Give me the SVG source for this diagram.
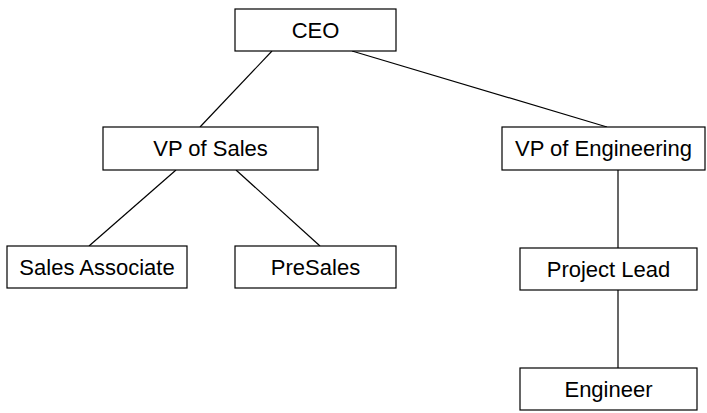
<svg xmlns="http://www.w3.org/2000/svg" width="707" height="413" viewBox="0 0 707 413">
<style>
rect{fill:#fff;stroke:#000;stroke-width:1.2}
text{font-family:"Liberation Sans",Arial,sans-serif;font-size:22px;fill:#000;text-anchor:middle}
line{stroke:#000;stroke-width:1.2}
</style>
<rect x="0" y="0" width="707" height="413" style="stroke:none"/>
<g id="connectors">
<line x1="272" y1="51" x2="200" y2="127"/>
<line x1="352" y1="51" x2="607" y2="127"/>
<line x1="176" y1="170" x2="89" y2="246"/>
<line x1="236" y1="170" x2="320" y2="246"/>
<line x1="618" y1="170" x2="618" y2="248"/>
<line x1="618" y1="290" x2="618" y2="368"/>
</g>
<g id="ceo"><rect x="235" y="9" width="161" height="42"/><text x="315.5" y="38">CEO</text></g>
<g id="vp-sales"><rect x="103" y="127" width="215" height="43"/><text x="210.5" y="156">VP of Sales</text></g>
<g id="vp-eng"><rect x="502" y="127" width="203" height="43"/><text x="603.5" y="156">VP of Engineering</text></g>
<g id="sales-assoc"><rect x="7" y="246" width="180" height="42"/><text x="97" y="275">Sales Associate</text></g>
<g id="presales"><rect x="235" y="246" width="161" height="42"/><text x="315.5" y="275">PreSales</text></g>
<g id="project-lead"><rect x="520" y="248" width="177" height="42"/><text x="608.5" y="277">Project Lead</text></g>
<g id="engineer"><rect x="520" y="368" width="177" height="42"/><text x="608.5" y="397">Engineer</text></g>
</svg>
